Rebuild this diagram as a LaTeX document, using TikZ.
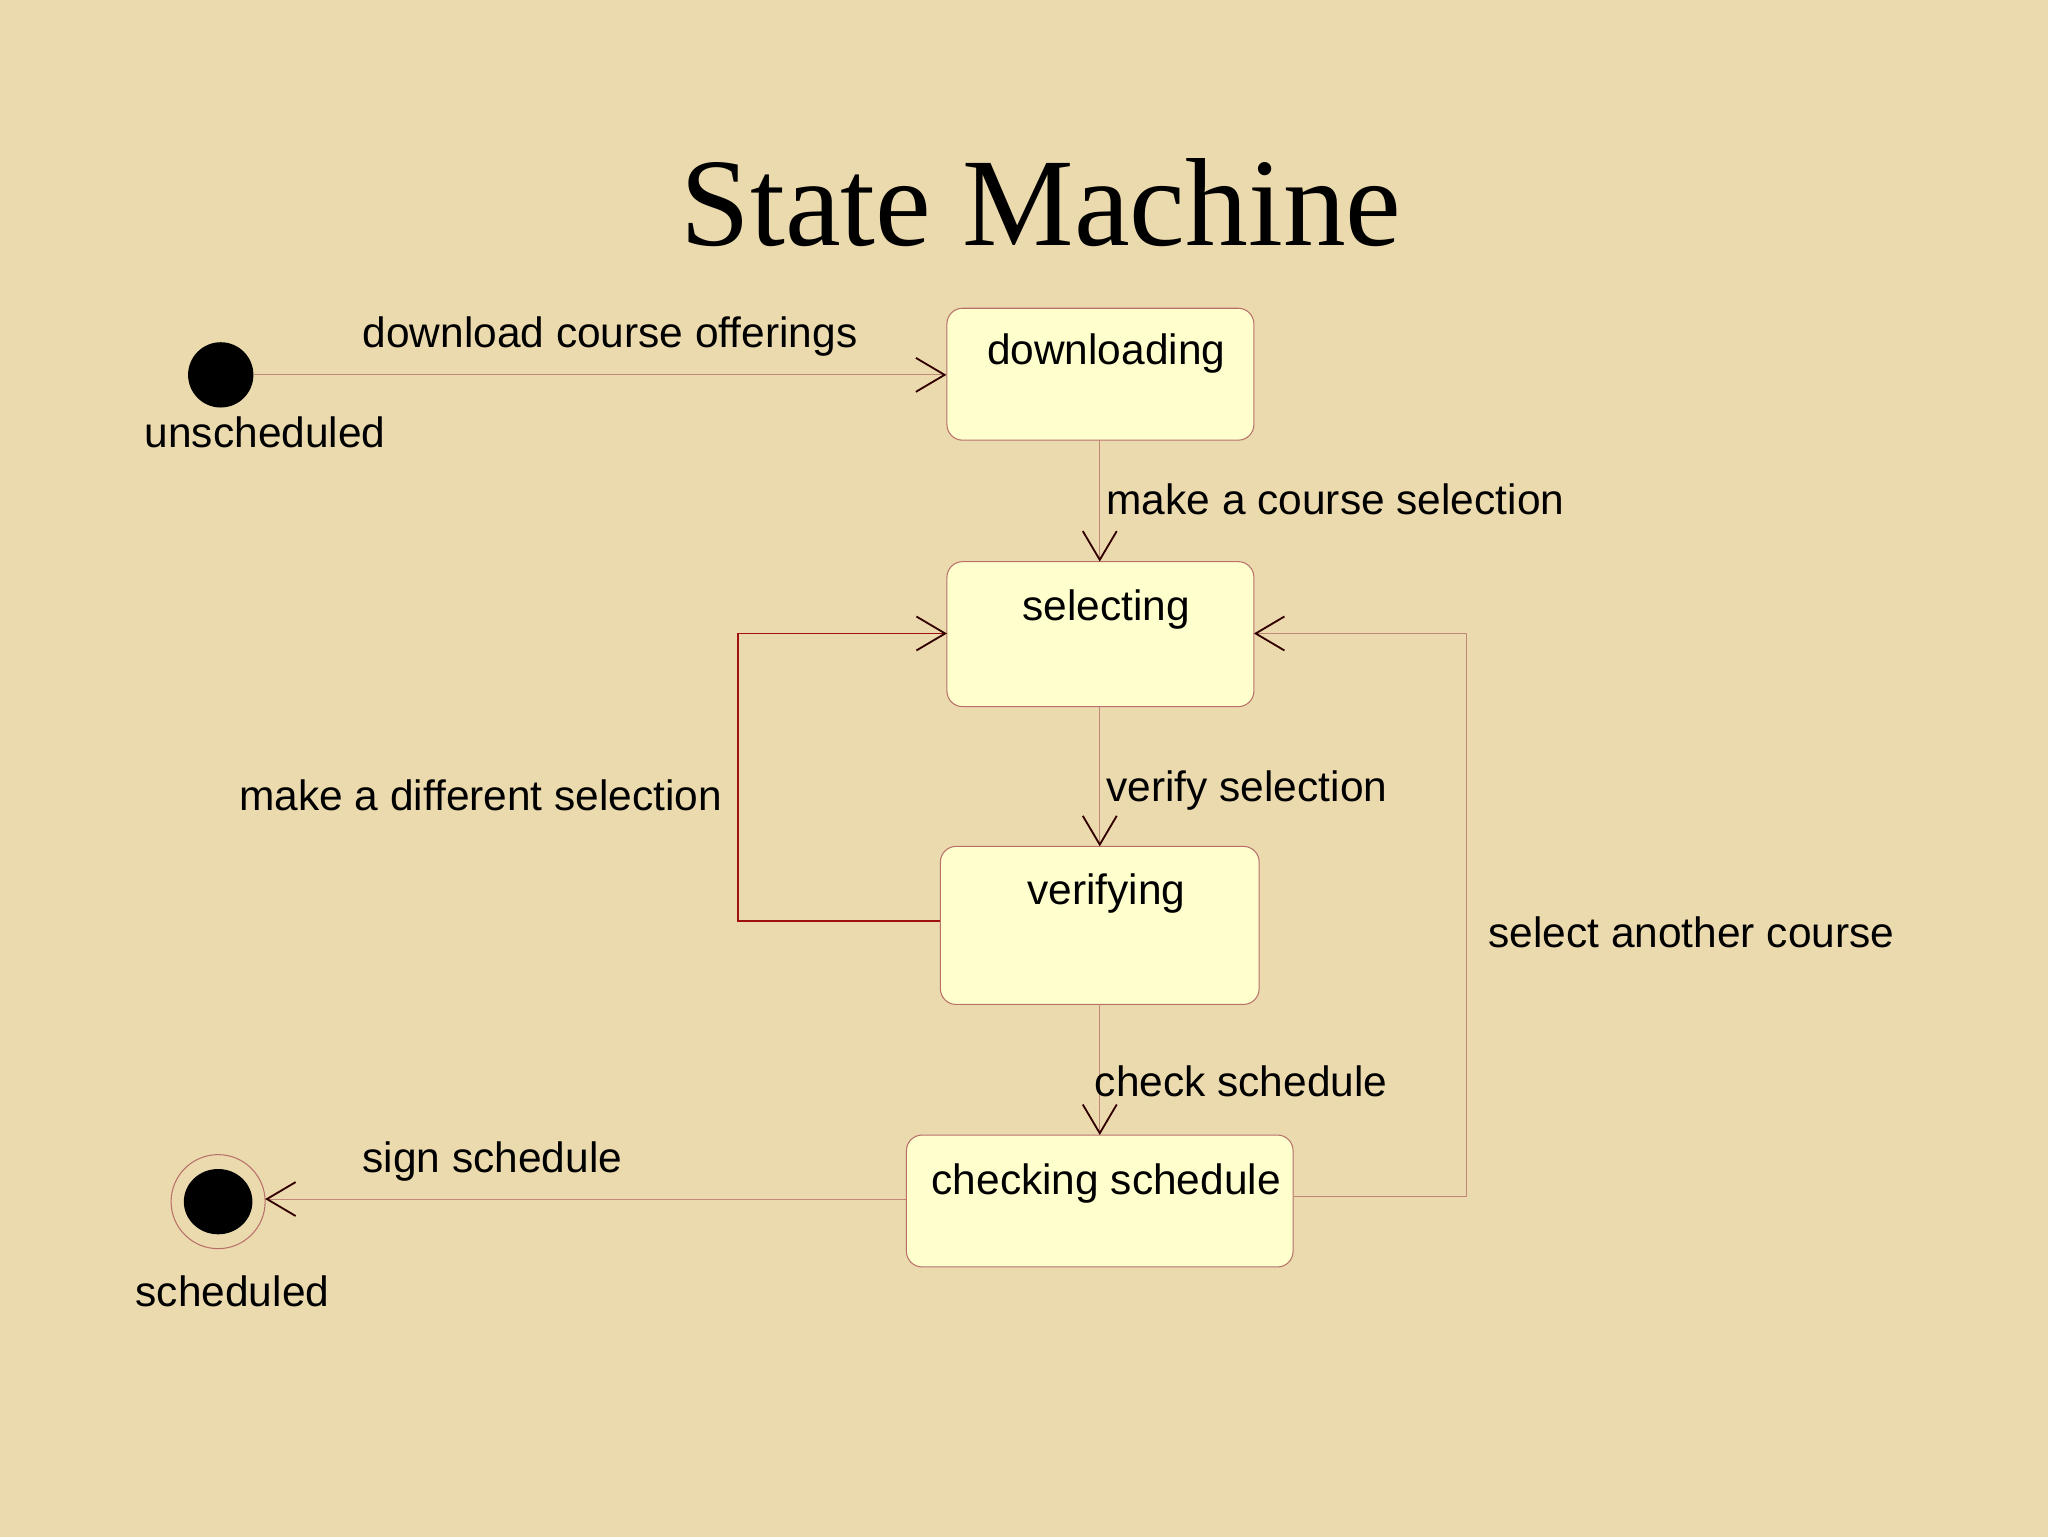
\documentclass[tikz,border=0pt]{standalone}
\usepackage{fontspec}
\setmainfont{Liberation Sans}
\newfontfamily\titlefont{Liberation Serif}
\usetikzlibrary{arrows.meta}
\definecolor{bg}{HTML}{EBDAAE}
\definecolor{boxfill}{HTML}{FFFFCE}
\definecolor{boxline}{HTML}{B8706A}
\definecolor{lineclr}{HTML}{C08878}
\definecolor{darkred}{HTML}{A01010}
\tikzset{
  x=1pt,y=-1pt,
  statebox/.style={draw=boxline,fill=boxfill,rounded corners=12pt,line width=0.8pt},
  lbl/.style={font=\fontsize{32.5}{36}\selectfont,text=black,inner sep=0pt},
  trans/.style={draw=lineclr,line width=0.8pt,-{Straight Barb[length=22pt,width=26pt,line width=1.4pt,color=black!80!red]}},
}
\begin{document}
\begin{tikzpicture}
\useasboundingbox (0,0) rectangle (1568,1176);
\fill[bg] (-5,-5) rectangle (1575,1185);
\node[font=\titlefont\fontsize{96}{100}\selectfont] (title) at (797,155) {State Machine};
% states
\node[statebox,minimum width=235pt,minimum height=101pt] (dl) at (842.5,286.5) {};
\node[lbl] (dlt) at (847,271) {downloading};
\node[statebox,minimum width=235pt,minimum height=111pt] (sel) at (842.5,485.5) {};
\node[lbl] (selt) at (847,467) {selecting};
\node[statebox,minimum width=244pt,minimum height=121pt] (ver) at (842,708.5) {};
\node[lbl] (vert) at (847,684) {verifying};
\node[statebox,minimum width=296pt,minimum height=101pt] (chk) at (842,919.5) {};
\node[lbl] (chkt) at (847,906) {checking schedule};
% pseudostates
\node[circle,fill=black,minimum size=50pt,inner sep=0pt] (init) at (169,287) {};
\node[lbl] (unsch) at (203,331) {unscheduled};
\node[circle,draw=boxline,line width=0.8pt,fill=bg,minimum size=72pt,inner sep=0pt] (fin) at (167,920) {};
\node[circle,fill=black,minimum size=50pt,inner sep=0pt,xscale=1.05] (fininner) at (167,920) {};
\node[lbl] (sch) at (178,989) {scheduled};
% transitions
\draw[trans] (init.east) -- (dl.west |- init.east);
\node[lbl] (l1) at (467,258) {download course offerings};
\draw[trans] (842,337) coordinate (a1) -- (842,430);
\node[lbl,anchor=west] (l2) at (847,382) {make a course selection};
\draw[trans] (842,541) -- (842,648);
\node[lbl,anchor=west] (l3) at (847,605) {verify selection};
\draw[trans] (842,769) -- (842,869);
\node[lbl,anchor=west] (l4) at (838,828) {check schedule};
\draw[trans] (chk.west |- 0,918) -- (203,918);
\node[lbl] (l5) at (377,889) {sign schedule};
\draw[trans,draw=darkred,line width=1.2pt] (ver.west |- 0,705) -- (565,705) -- (565,485) -- (725,485);
\node[lbl] (l6) at (368,609) {make a different selection};
\draw[trans] (chk.east |- 0,916) -- (1123,916) -- (1123,485) -- (960,485);
\node[lbl] (l7) at (1295,714) {select another course};
\end{tikzpicture}
\end{document}
